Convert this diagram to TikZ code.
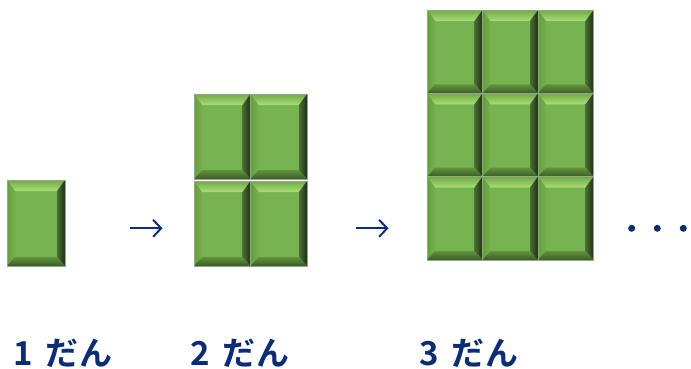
\documentclass[tikz,border=0pt]{standalone}
\usepackage{fontspec}
\newfontfamily\jpfont{Noto Sans CJK JP}[BoldFont={* Bold}]
\usetikzlibrary{arrows.meta}
\definecolor{navy}{RGB}{12,44,117}
\definecolor{facec}{RGB}{119,179,80}
\definecolor{topa}{RGB}{112,170,70}
\definecolor{topb}{RGB}{170,222,120}
\definecolor{lefta}{RGB}{100,158,66}
\definecolor{leftb}{RGB}{118,176,78}
\definecolor{righta}{RGB}{72,112,46}
\definecolor{rightb}{RGB}{28,48,20}
\definecolor{bota}{RGB}{98,148,62}
\definecolor{botb}{RGB}{58,92,38}
\definecolor{edgec}{RGB}{150,165,140}
\tikzset{
  label text/.style={text=navy, font=\jpfont\bfseries\fontsize{33}{34}\selectfont, inner sep=0pt, anchor=base west},
  step arrow/.style={draw=navy, line width=2pt, -{Straight Barb[length=8pt,width=17pt,line width=2pt]}},
  dotc/.style={fill=navy, circle, inner sep=0pt, minimum size=7pt}
}
% \tile{x}{y}{w}{h}
\newcommand\tile[4]{%
\begin{scope}[shift={(#1,#2)}]
  \fill[facec] (0,0) rectangle (#3,#4);
  \shade[top color=topa, bottom color=topb] (0,0) -- (#3,0) -- (#3-8,11) -- (8,11) -- cycle;
  \shade[left color=lefta, right color=leftb] (0,0) -- (8,11) -- (8,#4-9) -- (0,#4) -- cycle;
  \shade[left color=righta, right color=rightb] (#3,0) -- (#3,#4) -- (#3-8,#4-9) -- (#3-8,11) -- cycle;
  \shade[top color=bota, bottom color=botb] (0,#4) -- (8,#4-9) -- (#3-8,#4-9) -- (#3,#4) -- cycle;
  \draw[edgec, line width=0.5pt] (0,0) rectangle (#3,#4);
\end{scope}}
\newcommand\stagelabel[1]{#1\hspace{13pt}だ\hspace{1pt}ん}
\begin{document}
\begin{tikzpicture}[x=1pt,y=-1pt]
\useasboundingbox (0,0) rectangle (691,368);
% stage 1
\tile{7}{180}{58}{86}
% stage 2
\tile{194}{94}{56.5}{85}
\tile{250.5}{94}{56.5}{85}
\tile{194}{181}{56.5}{85}
\tile{250.5}{181}{56.5}{85}
% stage 3
\foreach \r in {0,1,2}{
  \foreach \c in {0,1,2}{
    \tile{427+55.5*\c}{10+83.3*\r}{55.5}{83.3}
  }
}
% arrows
\coordinate (a1s) at (129.5,228.3);
\coordinate (a1e) at (162.5,228.3);
\coordinate (a2s) at (355.7,228.3);
\coordinate (a2e) at (388.5,228.3);
\draw[step arrow] (a1s) -- (a1e);
\draw[step arrow] (a2s) -- (a2e);
% dots
\node[dotc] (d1) at (631.7,228.3) {};
\node[dotc] (d2) at (657.3,228.3) {};
\node[dotc] (d3) at (683.3,228.3) {};
% labels
\node[label text] (l1) at (13,365) {\stagelabel{1}};
\node[label text] (l2) at (190,365) {\stagelabel{2}};
\node[label text] (l3) at (419,365) {\stagelabel{3}};
\end{tikzpicture}
\end{document}
